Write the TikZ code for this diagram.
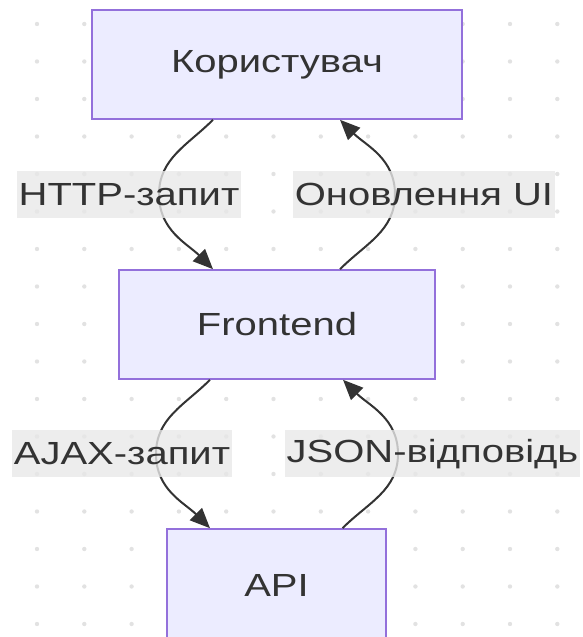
\documentclass[tikz,border=0pt]{standalone}
\usepackage{fontspec}
\setmainfont{Liberation Sans}[FakeStretch=1.25]
\usetikzlibrary{arrows.meta}
\definecolor{nodefill}{HTML}{ECECFF}
\definecolor{nodeline}{HTML}{9370DB}
\definecolor{txt}{HTML}{333333}
\definecolor{labelbg}{HTML}{E8E8E8}
\definecolor{dotc}{HTML}{E2E2E2}
\tikzset{
  box/.style={draw=nodeline, fill=nodefill, line width=1.6pt, inner sep=0pt, text=txt, font=\fontsize{32}{38}\selectfont},
  elabel/.style={fill=labelbg, fill opacity=0.8, text opacity=1, text=txt, inner xsep=2pt, inner ysep=0pt, minimum height=47pt, font=\fontsize{32}{38}\selectfont},
  conn/.style={draw=txt, line width=2pt, -{Triangle[length=20pt,width=17pt]}}
}
\begin{document}
\begin{tikzpicture}[x=1pt,y=1pt]
\useasboundingbox (0,0) rectangle (582,637);
% dotted background
\foreach \i in {0,...,11}{
  \foreach \j in {0,...,16}{
    \fill[dotc] ({37+47.3*\i},{637-24-37.5*\j}) circle (2.2pt);
  }
}
% nodes
\node[box, minimum width=370pt, minimum height=109pt] (user) at (277,572.5) {Користувач};
\node[box, minimum width=316pt, minimum height=109pt] (front) at (277,312.5) {Frontend};
\node[box, minimum width=219pt, minimum height=112pt] (api) at (276.5,52) {API};
% mid coordinates
\coordinate (m1) at (159,442.5);
\coordinate (m2) at (395,442.5);
\coordinate (m3) at (156,183);
\coordinate (m4) at (398,183);
% connectors
\draw[conn] ([xshift=-64pt]user.south) to[out=225,in=90] (m1) to[out=270,in=135] ([xshift=-64pt]front.north);
\draw[conn] ([xshift=63pt]front.north) to[out=45,in=270] (m2) to[out=90,in=-45] ([xshift=63pt]user.south);
\draw[conn] ([xshift=-67pt]front.south) to[out=225,in=90] (m3) to[out=270,in=135] ([xshift=-66.5pt]api.north);
\draw[conn] ([xshift=66pt]api.north) to[out=45,in=270] (m4) to[out=90,in=-45] ([xshift=66pt]front.south);
% labels
\node[elabel] (l1) at (129,442.5) {HTTP-запит};
\node[elabel] (l2) at (424,442.5) {Оновлення UI};
\node[elabel] (l3) at (122,183) {AJAX-запит};
\node[elabel] (l4) at (432.5,183) {JSON-відповідь};
\end{tikzpicture}
\end{document}
